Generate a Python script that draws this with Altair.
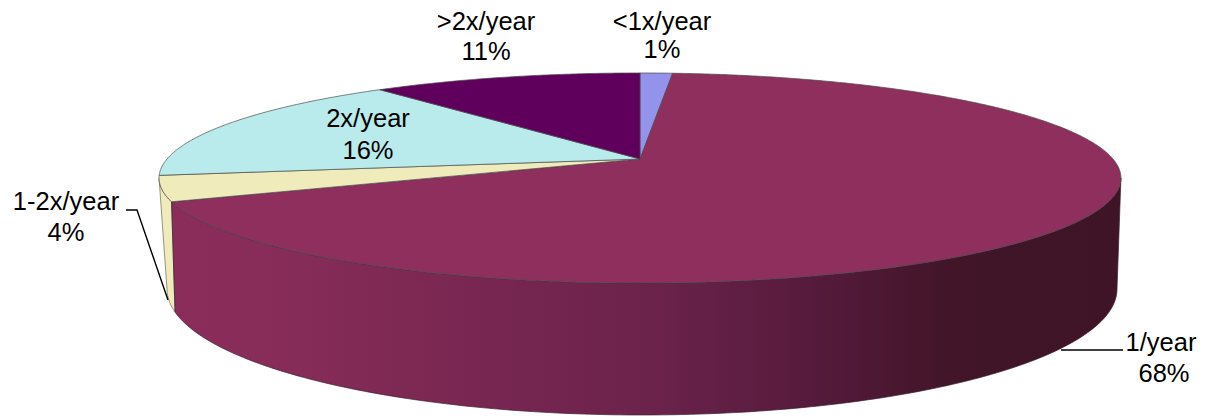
import altair as alt
import numpy as np
import pandas as pd

categories = ["<1x/year", "1/year", "1-2x/year", "2x/year", ">2x/year"]
shares = [1.3, 67.3, 3.9, 16.7, 10.8]
percent_labels = ["1%", "68%", "4%", "16%", "11%"]
colors = ["#9393EC", "#8F2F5D", "#EFEBBB", "#B9EBEC", "#5F005C"]
label_x = [662, 1161, 66, 368, 486]
percent_x = [662, 1164, 66, 368, 486]
label_y = [22, 343, 202, 119, 22]
percent_y = [50, 374, 233, 151, 52]

# Page-pixel layout of the tilted pie
APEX_X, APEX_Y, RX, RY, TILT = 640.0, 159.0, 473.0, 101.6, 0.181
BOT_X, BOT_Y, BOT_RX, BOT_RY = 642.0, 289.0, 475.0, 126.0
SIDE_T = np.degrees(np.arccos(-TILT))

cum = np.cumsum([0] + shares) / sum(shares) * 360.0


def top_point(t):
    r = np.radians(t)
    w = 1 + TILT * np.cos(r)
    return APEX_X + RX * np.sin(r) / w, APEX_Y - RY * np.cos(r) / w


def bottom_point(a):
    r = np.radians(a)
    return BOT_X + BOT_RX * np.cos(r), BOT_Y + BOT_RY * np.sin(r)


def frame(points):
    return pd.DataFrame(
        {"x": [p[0] for p in points], "y": [p[1] for p in points], "i": range(len(points))}
    )


x_scale = alt.Scale(domain=[8, 1197], range=[0, 1189], nice=False, zero=False)
y_scale = alt.Scale(domain=[418, 8], range=[410, 0], nice=False, zero=False)


def polygon(points, fill, stroke="#4A4A4A", width=0.7):
    return (
        alt.Chart(frame(points))
        .mark_line(fill=fill, stroke=stroke, strokeWidth=width, interpolate="linear", clip=False)
        .encode(
            x=alt.X("x:Q", scale=x_scale, axis=None),
            y=alt.Y("y:Q", scale=y_scale, axis=None),
            order=alt.Order("i:Q"),
        )
    )


layers = []

# Side wall of the 1-2x/year slice
left_end = np.degrees(np.arccos(-0.983))
beige_top = [top_point(t) for t in np.linspace(cum[2], 360 - SIDE_T, 10)]
beige_bottom = [bottom_point(a) for a in np.linspace(180, left_end, 8)]
layers.append(polygon(beige_top + beige_bottom + beige_top[:1], colors[2], "#6B6B55"))

# Side wall of the 1/year slice, shaded left to right
wall_top = [top_point(t) for t in np.linspace(SIDE_T, cum[2], 160)]
wall_bottom = [bottom_point(a) for a in np.linspace(left_end, 0, 160)]
wall_fill = alt.Gradient(
    gradient="linear",
    x1=0, x2=1, y1=0, y2=0,
    stops=[
        alt.GradientStop(offset=0.0, color="#8B2D5A"),
        alt.GradientStop(offset=0.12, color="#872C59"),
        alt.GradientStop(offset=0.35, color="#762650"),
        alt.GradientStop(offset=0.5, color="#6C234B"),
        alt.GradientStop(offset=0.66, color="#581B3E"),
        alt.GradientStop(offset=0.82, color="#421529"),
        alt.GradientStop(offset=1.0, color="#3E1426"),
    ],
)
layers.append(polygon(wall_top + wall_bottom + wall_top[:1], wall_fill, "#3A2030"))

# Top faces
for k in range(len(categories)):
    arc = [top_point(t) for t in np.linspace(cum[k], cum[k + 1], max(3, int((cum[k + 1] - cum[k]) * 2)))]
    pts = [(APEX_X, APEX_Y)] + arc + [(APEX_X, APEX_Y)]
    layers.append(polygon(pts, colors[k]))

# Leader lines
leaders = [
    [(126, 210), (137, 210), (168, 300)],
    [(1061, 350), (1123, 350)],
]
for pts in leaders:
    layers.append(
        alt.Chart(frame(pts))
        .mark_line(color="#000000", strokeWidth=1.4)
        .encode(
            x=alt.X("x:Q", scale=x_scale, axis=None),
            y=alt.Y("y:Q", scale=y_scale, axis=None),
            order=alt.Order("i:Q"),
        )
    )

# Labels
rows = []
for c, p, lx, ly, px, py in zip(categories, percent_labels, label_x, label_y, percent_x, percent_y):
    rows.append({"t": c, "x": lx, "y": ly})
    rows.append({"t": p, "x": px, "y": py})
layers.append(
    alt.Chart(pd.DataFrame(rows))
    .mark_text(font="Liberation Sans", fontSize=25.5, color="#000000", align="center", baseline="middle")
    .encode(
        x=alt.X("x:Q", scale=x_scale, axis=None),
        y=alt.Y("y:Q", scale=y_scale, axis=None),
        text="t:N",
    )
)

chart = (
    alt.layer(*layers)
    .properties(width=1189, height=410, padding=0, autosize=alt.AutoSizeParams(type="none"))
    .configure_view(stroke=None)
)

chart.save("out.html", embed_options={"renderer": "svg", "actions": False})
